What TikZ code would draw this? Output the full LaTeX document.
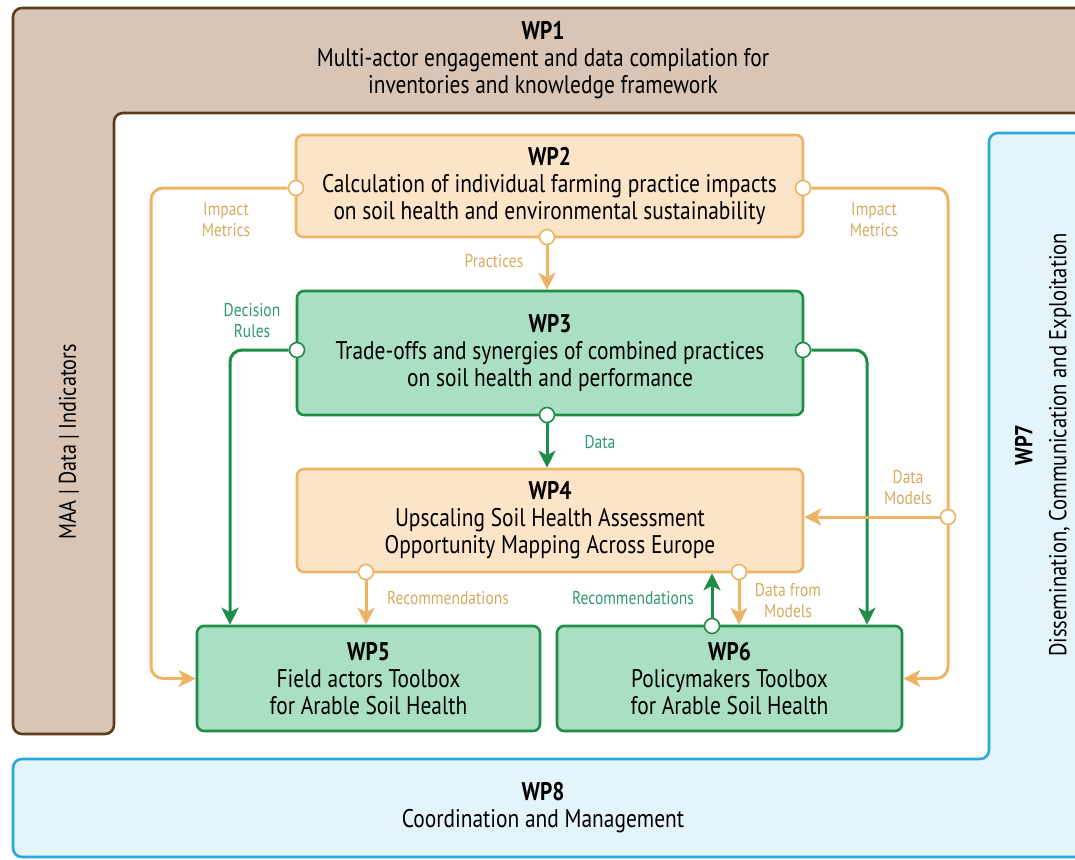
\documentclass[tikz,border=0pt]{standalone}
\usepackage{fontspec}
\setmainfont{PT Sans}[FakeStretch=0.84]
\usepackage{tikz}
\usepackage{xcolor}
\usetikzlibrary{arrows.meta, positioning, backgrounds}

\definecolor{wpbrown}{HTML}{D9C5B6}
\definecolor{wpbrowndark}{HTML}{5E3B1C}
\definecolor{wporange}{HTML}{FCE4C8}
\definecolor{wporangeline}{HTML}{EEB466}
\definecolor{wporangearr}{HTML}{F0A43A}
\definecolor{wporangetext}{HTML}{D6AA62}
\definecolor{wpgreen}{HTML}{AADFC3}
\definecolor{wpgreenline}{HTML}{1F8C47}
\definecolor{wpgreentext}{HTML}{2E9A6C}
\definecolor{wpblue}{HTML}{E4F4FB}
\definecolor{wpblueline}{HTML}{2AA8DC}

\begin{document}
\begin{tikzpicture}[
  x=1pt, y=-1pt,
  every node/.style={font=\fontsize{25.5}{27}\selectfont, align=center},
  wpbox/.style={draw, line width=2.6pt, rounded corners=7pt, inner sep=0pt},
  obox/.style={wpbox, fill=wporange, draw=wporangeline},
  gbox/.style={wpbox, fill=wpgreen, draw=wpgreenline},
  port/.style={circle, fill=white, line width=1.6pt, minimum size=15pt, inner sep=0pt},
  oport/.style={port, draw=wporangeline},
  gport/.style={port, draw=wpgreenline},
  oline/.style={draw=wporangeline, line width=3pt, rounded corners=12pt},
  gline/.style={draw=wpgreenline, line width=3pt, rounded corners=12pt},
  oarr/.style={oline, -{Stealth[length=17pt, width=17pt, inset=4.5pt, fill=wporangearr]}},
  garr/.style={gline, -{Stealth[length=17pt, width=17pt, inset=4.5pt]}},
  olabel/.style={text=wporangetext, font=\fontsize{18.5}{21}\selectfont},
  glabel/.style={text=wpgreentext, font=\fontsize{18.5}{21}\selectfont}
]
\useasboundingbox (0,0) rectangle (1075,859);

% WP1 frame (top band + left column)
\draw[fill=wpbrown, draw=wpbrowndark, line width=2.6pt, rounded corners=9pt]
  (1080,8) -- (13,8) -- (13,734) -- (114,734) -- (114,113) -- (1080,113);
\node (wp1) at (543,60) {\textbf{WP1}\\Multi-actor engagement and data compilation for\\inventories and knowledge framework};
\node[rotate=90, font=\fontsize{24}{27}\selectfont] (maa) at (69,442) {MAA | Data | Indicators};

% WP7 / WP8 frame
\draw[fill=wpblue, draw=wpblueline, line width=2.6pt, rounded corners=9pt]
  (1080,133) -- (989,133) -- (989,759) -- (13,759) -- (13,857) -- (1080,857);
\node (wp8) at (543,808) {\textbf{WP8}\\Coordination and Management};
\node[rotate=90, font=\fontsize{24.5}{34}\selectfont] (wp7) at (1043,445) {\textbf{WP7}\\Dissemination, Communication and Exploitation};

% work package boxes
\node[obox, minimum width=507pt, minimum height=102pt] (wp2) at (549.5,186)
  {\textbf{WP2}\\Calculation of individual farming practice impacts\\on soil health and environmental sustainability};
\node[gbox, minimum width=506pt, minimum height=124pt] (wp3) at (550,353)
  {\textbf{WP3}\\Trade-offs and synergies of combined practices\\on soil health and performance};
\node[obox, minimum width=506pt, minimum height=103pt] (wp4) at (550,520.5)
  {\textbf{WP4}\\Upscaling Soil Health Assessment\\Opportunity Mapping Across Europe};
\node[gbox, minimum width=343pt, minimum height=105pt] (wp5) at (368.5,678.5)
  {\textbf{WP5}\\Field actors Toolbox\\for Arable Soil Health};
\node[gbox, minimum width=345pt, minimum height=105pt] (wp6) at (729.5,678.5)
  {\textbf{WP6}\\Policymakers Toolbox\\for Arable Soil Health};

% ports
\node[oport] (p2l) at (296,188) {};
\node[oport] (p2r) at (803,188) {};
\node[oport] (p2b) at (547,237) {};
\node[gport] (p3l) at (297,350) {};
\node[gport] (p3r) at (803,350) {};
\node[gport] (p3b) at (547,415) {};
\node[oport] (p4r) at (948,517) {};
\node[oport] (p4b) at (366,572) {};
\node[oport] (p4c) at (739,572) {};
\node[gport] (p6t) at (712,626) {};

\coordinate (olrail) at (151,0);
\coordinate (orrail) at (948,0);
\coordinate (glrail) at (230,0);
\coordinate (grrail) at (867,0);

% connectors
\begin{scope}[on background layer]
\draw[oarr] (p2l.west) -| (olrail |- wp5.west) -- (wp5.west);
\draw[oarr] (p2r.east) -| (orrail |- wp6.east) -- (wp6.east);
\draw[oarr] (p2b) -- (p2b |- wp3.north);
\draw[garr] (p3l.west) -| (glrail |- wp5.north);
\draw[garr] (p3r.east) -| (grrail |- wp6.north);
\draw[garr] (p3b) -- (p3b |- wp4.north);
\draw[oarr] (p4r) -- (p4r -| wp4.east);
\draw[oarr] (p4b) -- (p4b |- wp5.north);
\draw[oarr] (p4c) -- (p4c |- wp6.north);
\draw[garr] (p6t) -- (p6t |- wp4.south);
\end{scope}

% connector labels
\node[olabel] (lim1) at (226,220) {Impact\\Metrics};
\node[olabel] (lim2) at (874,220) {Impact\\Metrics};
\node[olabel] (lpra) at (494,261) {Practices};
\node[glabel] (ldec) at (252,321) {Decision\\Rules};
\node[glabel] (ldat) at (600,442) {Data};
\node[olabel] (ldm) at (908,488) {Data\\Models};
\node[olabel] (lrec1) at (448,598) {Recommendations};
\node[glabel] (lrec2) at (633,598) {Recommendations};
\node[olabel] (ldfm) at (788,601) {Data from\\Models};
\end{tikzpicture}
\end{document}
